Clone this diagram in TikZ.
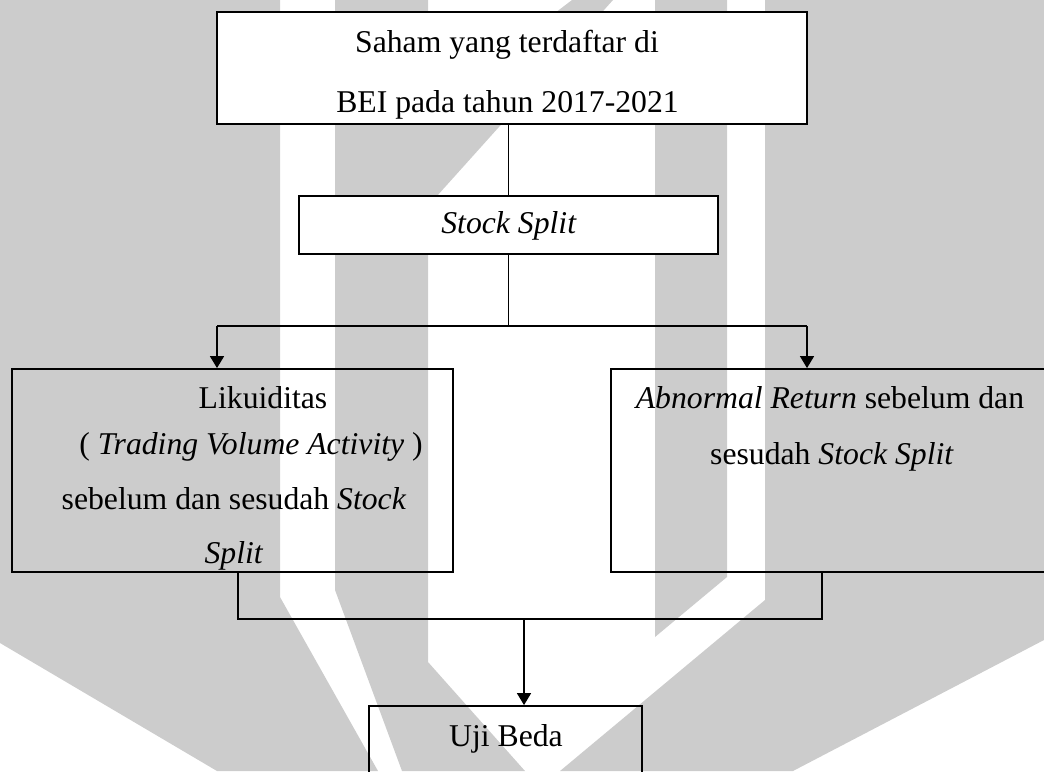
\documentclass[tikz,border=0pt]{standalone}
\usepackage{fontspec}
\setmainfont{Liberation Serif}
\usetikzlibrary{arrows.meta}
\definecolor{wm}{RGB}{204,204,204}
\begin{document}
\begin{tikzpicture}[x=1pt,y=-1pt,
  box/.style={draw,line width=1.8pt,inner sep=0pt,anchor=center},
  wbox/.style={box,fill=white},
  lbl/.style={anchor=base,inner sep=0pt,font=\fontsize{31.7}{38}\selectfont},
  conn/.style={line width=1.5pt},
  arr/.style={conn,-{Triangle[length=12pt,width=14pt]}}]
\useasboundingbox (0,0) rectangle (1044,771);
% watermark
\fill[wm] (0,0) -- (280,0) -- (280,597) -- (378,771) -- (217,771) -- (0,643) -- cycle;
\fill[wm] (335,0) -- (428,0) -- (428,662) -- (525,771) -- (402,771) -- (335,590) -- cycle;
\fill[wm] (572,0) -- (613,0) -- (428,206) -- (428,110) -- cycle;
\fill[wm] (655,0) -- (727,0) -- (727,577) -- (655,637) -- cycle;
\fill[wm] (765,0) -- (1044,0) -- (1044,640) -- (793,771) -- (560,771) -- (765,600) -- cycle;
% boxes
\node[wbox,minimum width=590pt,minimum height=112pt] (top) at (512,68) {};
\node[wbox,minimum width=419pt,minimum height=58pt] (ss) at (508.5,225) {};
\node[box,minimum width=441pt,minimum height=203pt] (liq) at (232.5,470.5) {};
\node[box,minimum width=439pt,minimum height=203pt] (abn) at (830.5,470.5) {};
\node[box,minimum width=273pt,minimum height=94pt] (uji) at (505.5,753) {};
% texts
\node[lbl] (t1) at (507,52) {Saham yang terdaftar di};
\node[lbl] (t2) at (507.5,112) {BEI pada tahun 2017-2021};
\node[lbl] (t3) at (509,233) {\textit{Stock Split}};
\node[lbl] (t4) at (263,408) {Likuiditas};
\node[lbl] (t5) at (251,454) {( \textit{Trading Volume Activity} )};
\node[lbl] (t6) at (234,509) {sebelum dan sesudah \textit{Stock}};
\node[lbl] (t7) at (234,563) {\textit{Split}};
\node[lbl] (t8) at (830,408) {\textit{Abnormal Return} sebelum dan};
\node[lbl] (t9) at (832,464) {sesudah \textit{Stock Split}};
\node[lbl] (t10) at (506,746) {Uji Beda};
% connectors
\coordinate (bl) at (217,326);
\coordinate (br) at (807,326);
\coordinate (c1) at (238,619);
\coordinate (c2) at (822,619);
\coordinate (c3) at (524,619);
\draw[conn] (ss.north) -- (ss.north |- top.south);
\draw[conn] (ss.south) -- (ss.south |- bl);
\draw[conn] (bl) -- (br);
\draw[arr] (bl) -- (bl |- liq.north);
\draw[arr] (br) -- (br |- abn.north);
\draw[conn] (c1 |- liq.south) -- (c1) -- (c2) -- (c2 |- abn.south);
\draw[arr] (c3) -- (c3 |- uji.north);
\end{tikzpicture}
\end{document}
